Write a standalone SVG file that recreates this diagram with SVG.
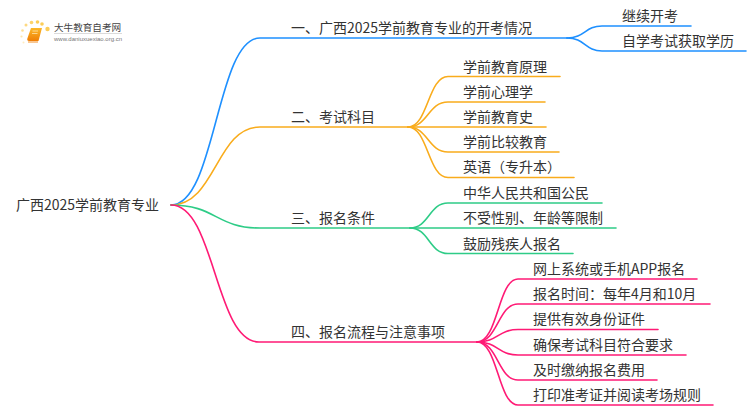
<svg xmlns="http://www.w3.org/2000/svg" width="750" height="410" viewBox="0 0 750 410">
<defs><linearGradient id="bk" x1="0" y1="0" x2="0" y2="1"><stop offset="0" stop-color="#FBB829"/><stop offset="1" stop-color="#EF7E06"/></linearGradient></defs>
<style>
.t{font-family:"Noto Sans CJK SC","Noto Sans",sans-serif;font-size:14px;fill:#333}
.c{fill:none;stroke-width:1.6;stroke-linecap:round}
.b{stroke:#1E90FF}.o{stroke:#F9AC1C}.g{stroke:#2ECC87}.p{stroke:#FF1A75}
</style>
<rect width="750" height="410" fill="#fff"/>
<g id="connectors">
<path class="c b" d="M171 205C216 205 216 38 260 38H567"/>
<path class="c b" d="M567 38C585 38 585 26 602 26H691"/>
<path class="c b" d="M567 38C585 38 585 51 602 51H746"/>
<path class="c o" d="M171 205C216 205 216 127 260 127H408"/>
<path class="c o" d="M408 127C428 127 428 76.500 448 76.500H560"/>
<path class="c o" d="M408 127C428 127 428 102 448 102H545"/>
<path class="c o" d="M408 127H546"/>
<path class="c o" d="M408 127C428 127 428 152 448 152H559"/>
<path class="c o" d="M408 127C428 127 428 177.500 448 177.500H574"/>
<path class="c g" d="M171 205C216 205 216 228 260 228H410"/>
<path class="c g" d="M410 228C429 228 429 203 448 203H602"/>
<path class="c g" d="M410 228H616"/>
<path class="c g" d="M410 228C429 228 429 253.500 448 253.500H573"/>
<path class="c p" d="M171 205C215 205 215 342 259 342H477"/>
<path class="c p" d="M477 342C498 342 498 279 518 279H697"/>
<path class="c p" d="M477 342C498 342 498 304 518 304H710"/>
<path class="c p" d="M477 342C498 342 498 329.500 518 329.500H658"/>
<path class="c p" d="M477 342C498 342 498 355 518 355H686"/>
<path class="c p" d="M477 342C498 342 498 380 518 380H657"/>
<path class="c p" d="M477 342C498 342 498 405 518 405H713"/>
</g>
<g id="logo">
<g fill="#FBC02D">
<circle cx="47.500" cy="29" r="2.200" opacity=".8"/><circle cx="42" cy="24" r="1.800" opacity=".8"/><circle cx="37.500" cy="22" r="1.800" opacity=".8"/><circle cx="31.500" cy="22.500" r="1.800" opacity=".7"/><circle cx="26" cy="25" r="1.500" opacity=".6"/><circle cx="22.500" cy="30.500" r="1.300" opacity=".5"/><circle cx="21.500" cy="36.500" r="1.100" opacity=".4"/><circle cx="23.500" cy="42.500" r="1" opacity=".3"/>
</g>
<path d="M31 28H42L38.500 41H29Q26.500 41 27.500 38Z" fill="url(#bk)"/>
<path d="M28 42H38" stroke="#F4A24A" stroke-width="1.200"/>
<path d="M32.500 31H38M32 33.500H37.500" stroke="#FFE3A8" stroke-width=".8"/>
<text x="54" y="31" style="font-family:'Noto Sans CJK SC',sans-serif;font-size:9.600px;fill:#444">大牛教育自考网</text>
<path d="M54 33.500H122" stroke="#ccc" stroke-width=".7"/>
<text x="54" y="41" style="font-family:'Liberation Sans',sans-serif;font-size:6px;fill:#777">www.daniuxuexiao.org.cn</text>
</g>
<g id="root"><text class="t" x="16" y="210">广西2025学前教育专业</text></g>
<g id="n1"><text class="t" x="291" y="33">一、广西2025学前教育专业的开考情况</text></g>
<g id="n1-1"><text class="t" x="622" y="21">继续开考</text></g>
<g id="n1-2"><text class="t" x="622" y="46">自学考试获取学历</text></g>
<g id="n2"><text class="t" x="291" y="122">二、考试科目</text></g>
<g id="n2-1"><text class="t" x="463" y="72">学前教育原理</text></g>
<g id="n2-2"><text class="t" x="463" y="97">学前心理学</text></g>
<g id="n2-3"><text class="t" x="463" y="122">学前教育史</text></g>
<g id="n2-4"><text class="t" x="463" y="147">学前比较教育</text></g>
<g id="n2-5"><text class="t" x="463" y="172">英语（专升本）</text></g>
<g id="n3"><text class="t" x="291" y="223">三、报名条件</text></g>
<g id="n3-1"><text class="t" x="463" y="198">中华人民共和国公民</text></g>
<g id="n3-2"><text class="t" x="463" y="223">不受性别、年龄等限制</text></g>
<g id="n3-3"><text class="t" x="463" y="249">鼓励残疾人报名</text></g>
<g id="n4"><text class="t" x="291" y="337">四、报名流程与注意事项</text></g>
<g id="n4-1"><text class="t" x="533" y="274">网上系统或手机APP报名</text></g>
<g id="n4-2"><text class="t" x="533" y="299">报名时间：每年4月和10月</text></g>
<g id="n4-3"><text class="t" x="533" y="324">提供有效身份证件</text></g>
<g id="n4-4"><text class="t" x="533" y="350">确保考试科目符合要求</text></g>
<g id="n4-5"><text class="t" x="533" y="375">及时缴纳报名费用</text></g>
<g id="n4-6"><text class="t" x="533" y="400">打印准考证并阅读考场规则</text></g>
</svg>
